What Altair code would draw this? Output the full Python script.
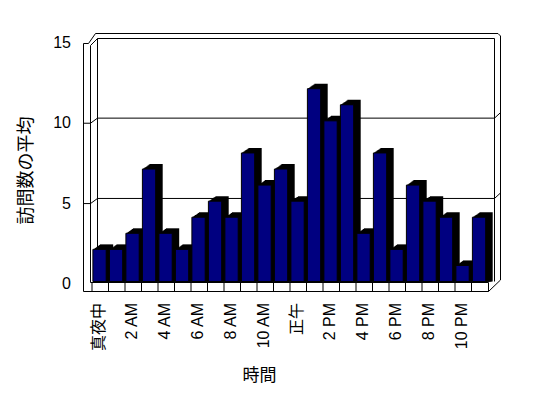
import altair as alt
import pandas as pd

# ---- data ----
hours = ["真夜中", "1 AM", "2 AM", "3 AM", "4 AM", "5 AM", "6 AM", "7 AM", "8 AM",
         "9 AM", "10 AM", "11 AM", "正午", "1 PM", "2 PM", "3 PM", "4 PM", "5 PM",
         "6 PM", "7 PM", "8 PM", "9 PM", "10 PM", "11 PM"]
visits = [2, 2, 3, 7, 3, 2, 4, 5, 4, 8, 6, 7, 5, 12, 10, 11, 3, 8, 2, 6, 5, 4, 1, 4]
label_hours = hours[::2]
y_ticks = [0, 5, 10, 15]
grid_vals = [5, 10]

df = pd.DataFrame({"hour": hours, "visits": visits})
grid_df = pd.DataFrame({"visits": grid_vals})
one = pd.DataFrame({"a": [0]})

FONT = "Liberation Sans, Noto Sans CJK JP"
TFONT = "Noto Sans CJK JP"
W, H = 396, 241           # plot area
OX, OY = 92, 40.5         # plot origin in page coords

x_enc = alt.X("hour:N", sort=hours,
              scale=alt.Scale(paddingInner=0, paddingOuter=0),
              axis=alt.Axis(values=label_hours, labelAngle=270, labelAlign="right",
                            labelBaseline="middle", labelPadding=21, labelOffset=-1.5,
                            domain=False, ticks=False, grid=False,
                            labelFont=FONT, labelFontSize=16, labelColor="black",
                            title="時間", titleFont=TFONT, titleFontSize=17,
                            titleFontWeight="normal", titleColor="black",
                            titleX=167, titleY=93.5, titleAlign="center",
                            titleBaseline="middle"))

y_axis = alt.Axis(values=y_ticks, grid=False, domain=False, ticks=False,
                  labelPadding=21.5, labelOffset=2,
                  labelFont=FONT, labelFontSize=16, labelColor="black",
                  title="訪問数の平均", titleFont=TFONT, titleFontSize=18,
                  titleFontWeight="normal", titleColor="black",
                  titleX=-66, titleY=129.5, titleAngle=270,
                  titleAlign="center", titleBaseline="middle")
y_scale = alt.Scale(domain=[0, 15], nice=False, zero=True)


def y_enc(field="visits"):
    return alt.Y(f"{field}:Q", scale=y_scale, axis=y_axis)


def seg(x1, y1, x2, y2):
    return alt.Chart(one).mark_rule(color="black", strokeWidth=1).encode(
        x=alt.value(x1 - OX), y=alt.value(y1 - OY),
        x2=alt.value(x2 - OX), y2=alt.value(y2 - OY))


layers = []

# back frame / walls
for s in [
    (83.5, 43.5, 88.5, 43.5),
    (88.5, 43.5, 95.5, 33.5),
    (95.5, 33.5, 498, 33.5),
    (498, 33.5, 500.5, 36),
    (500.5, 36, 500.5, 280),
    (90.5, 45.5, 90.5, 282.5),
    (90.5, 45.5, 97.5, 38.5),
    (97.5, 38.5, 494.5, 38.5),
    (97.5, 38.5, 97.5, 282.5),
    (494.5, 38.5, 494.5, 281.5),
]:
    layers.append(seg(*s))

# gridlines on back wall and side walls (through the y scale)
BACK, FRONT = -2.7, 2.4
gbase = alt.Chart(grid_df)
layers.append(gbase.mark_rule(color="black", yOffset=BACK).encode(
    y=y_enc(), x=alt.value(97.5 - OX), x2=alt.value(494.5 - OX)))
layers.append(gbase.mark_rule(color="black", yOffset=FRONT).encode(
    y=y_enc(), x=alt.value(83.5 - OX), x2=alt.value(90.5 - OX)))
layers.append(gbase.mark_rule(color="black", yOffset=FRONT, y2Offset=BACK).encode(
    y=y_enc(), y2="visits:Q", x=alt.value(90.5 - OX), x2=alt.value(97.5 - OX)))
layers.append(gbase.mark_rule(color="black", yOffset=BACK, y2Offset=BACK - 5.5).encode(
    y=y_enc(), y2="visits:Q", x=alt.value(494.5 - OX), x2=alt.value(500.5 - OX)))

base = alt.Chart(df)
BW = 13.3
# 3D depth (black top/side faces)
for i in range(1, 8):
    layers.append(base.mark_bar(color="black", width=BW, xOffset=-0.7 + i,
                                yOffset=-i * 5 / 7, y2Offset=0).encode(
        x=x_enc, y=y_enc(), y2=alt.datum(0)))
# front faces
layers.append(base.mark_bar(color="#000080", stroke="black", strokeWidth=1,
                            width=BW, xOffset=-0.7).encode(
    x=x_enc, y=y_enc(), y2=alt.datum(0)))

# floor cells
layers.append(base.mark_rule(color="black", xOffset=-8.25).encode(
    x=x_enc, y=alt.value(282.5 - OY), y2=alt.value(291.5 - OY)))

# front frame
for s in [
    (83.5, 43.5, 83.5, 291.5),
    (83.5, 291.5, 488.5, 291.5),
    (90.5, 282.5, 488.5, 282.5),
    (488.5, 282.5, 488.5, 291.5),
    (488.5, 291.5, 500.5, 280),
]:
    layers.append(seg(*s))

chart = alt.layer(*layers).properties(
    width=W, height=H,
    autosize=alt.AutoSizeParams(type="none"),
    padding={"left": OX - 8, "top": OY - 8, "right": 532 - (OX - 8) - W,
             "bottom": 382 - (OY - 8) - H},
    background="white",
).configure_view(strokeWidth=0)

chart.save("out.html", embed_options={"renderer": "svg", "actions": False})
